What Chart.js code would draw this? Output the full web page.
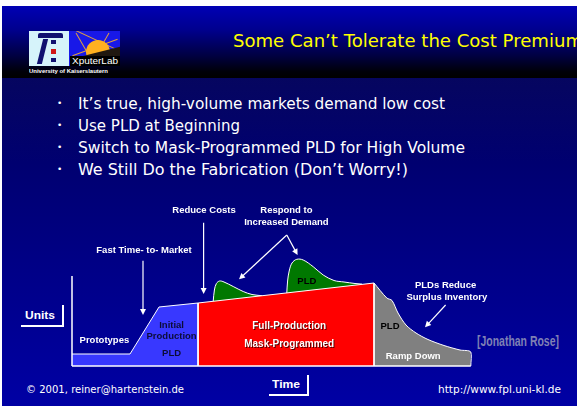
<!DOCTYPE html>
<html>
<head>
<meta charset="utf-8">
<script src="https://cdn.jsdelivr.net/npm/chart.js@4/dist/chart.umd.min.js"></script>
<style>
  html, body { margin: 0; padding: 0; background: #fff; }
  #slide { position: relative; width: 577px; height: 406px; overflow: hidden;
           background: linear-gradient(to bottom, #0b0b50 0%, #000070 40%, #0000a4 100%);
           font-family: 'Liberation Sans', Arial, sans-serif; }
  #head { position: absolute; left: 0; top: 0; width: 577px; height: 78px;
          background: linear-gradient(to bottom, #0000b4 8%, #00008e 38%, #000040 72%, #000008 92%, #000 100%); }
  #topstrip { position: absolute; left: 0; top: 0; width: 577px; height: 6px; background: #fff; }
  #leftstrip { position: absolute; left: 0; top: 0; width: 2px; height: 406px; background: #fff; }
  .t { position: absolute; white-space: nowrap; line-height: 1; transform-origin: left center; }
  .hand { font-family: 'DejaVu Sans', sans-serif; }
  .lbl { font-weight: bold; color: #fff; font-size: 11px; }
  .line { position: absolute; background: #fff; }
  canvas { position: absolute; left: 0; top: 0; }
  .box { position: absolute; }
</style>
</head>
<body>
<div id="slide">
  <div id="head"></div>
  <div id="topstrip"></div>
  <div id="leftstrip"></div>

  <!-- logo -->
  <div class="box" style="left:29px;top:31px;width:40px;height:35px;background:#d6f3fa;"></div>
  <div class="box" style="left:38px;top:33px;width:25px;height:5px;background:#101070;border-radius:2px 2px 0 0;"></div>
  <div class="box" style="left:40px;top:39px;width:5px;height:25px;background:#101070;transform:skewX(-14deg);"></div>
  <div class="box" style="left:51px;top:40px;width:5px;height:4px;background:#101070;"></div>
  <div class="box" style="left:51px;top:49px;width:5px;height:5px;background:#d01818;"></div>
  <div class="box" style="left:51px;top:58px;width:5px;height:4px;background:#101070;"></div>
  <div class="box" style="left:69px;top:31px;width:51px;height:35px;background:#1818e8;overflow:hidden;">
    <div class="box" style="left:2px;top:16px;width:48px;height:1px;background:#e0a040;transform:rotate(-20deg);"></div>
    <div class="box" style="left:2px;top:8px;width:48px;height:1px;background:#e0a040;transform:rotate(25deg);"></div>
    <div class="box" style="left:14px;top:0px;width:1px;height:30px;background:#e0a040;transform:rotate(-30deg);"></div>
    <div class="box" style="left:32px;top:0px;width:1px;height:30px;background:#e0a040;transform:rotate(30deg);"></div>
    <div class="box" style="left:17px;top:9px;width:24px;height:24px;border-radius:50%;background:#ffb020;"></div>
    <div class="box" style="left:14px;top:20px;width:40px;height:14px;background:#201810;transform:skewY(-14deg);"></div>
    <div class="box" style="left:1px;top:25px;width:50px;height:10px;background:#000;"></div>
    <div class="t" style="left:3px;top:26px;font-size:9px;color:#fff;font-family:'Liberation Sans',Arial,sans-serif;" data-w="46">XputerLab</div>
  </div>
  <div class="t" style="left:29px;top:68px;font-size:6px;color:#fff;font-weight:bold;" data-w="79">University of Kaiserslautern</div>

  <!-- title -->
  <div class="t hand" style="left:233px;top:32px;font-size:18px;color:#ffff00;" data-w="350">Some Can’t Tolerate the Cost Premium</div>

  <!-- bullets -->
  <div class="t hand" style="left:57px;top:99px;font-size:9px;color:#fff;">•</div>
  <div class="t hand" style="left:78px;top:96px;font-size:16px;color:#fff;" data-w="367">It’s true, high-volume markets demand low cost</div>
  <div class="t hand" style="left:57px;top:121px;font-size:9px;color:#fff;">•</div>
  <div class="t hand" style="left:78px;top:118px;font-size:16px;color:#fff;" data-w="162">Use PLD at Beginning</div>
  <div class="t hand" style="left:57px;top:143px;font-size:9px;color:#fff;">•</div>
  <div class="t hand" style="left:78px;top:140px;font-size:16px;color:#fff;" data-w="387">Switch to Mask-Programmed PLD for High Volume</div>
  <div class="t hand" style="left:57px;top:165px;font-size:9px;color:#fff;">•</div>
  <div class="t hand" style="left:78px;top:162px;font-size:16px;color:#fff;" data-w="330">We Still Do the Fabrication (Don’t Worry!)</div>

  <!-- axis titles -->
  <div class="t lbl" style="left:25px;top:310px;" data-w="30">Units</div>
  <div class="line" style="left:62px;top:305px;width:2px;height:22px;"></div>
  <div class="line" style="left:21px;top:325px;width:43px;height:2px;"></div>
  <div class="t lbl" style="left:272px;top:379px;" data-w="28">Time</div>
  <div class="line" style="left:307px;top:375px;width:2px;height:21px;"></div>
  <div class="line" style="left:269px;top:394px;width:40px;height:2px;"></div>

  <div class="t" style="left:477px;top:334px;font-size:14px;color:#7f80b4;font-weight:bold;" data-w="82">[Jonathan Rose]</div>

  <!-- footer -->
  <div class="t hand" style="left:26px;top:384px;font-size:11px;color:#fff;" data-w="158">© 2001, reiner@hartenstein.de</div>
  <div class="t hand" style="left:438px;top:384px;font-size:11px;color:#fff;" data-w="123">http://www.fpl.uni-kl.de</div>

  <canvas id="c" width="577" height="406"></canvas>
</div>

<script>
// Product life-cycle curve: units shipped over time, split by implementation.
// Prototypes and initial production on programmable logic
const protoTime  = [0, 14.5, 21.75, 31.5, 31.5];
const protoUnits = [12, 12, 59, 63, 0];
// Full-production run on mask-programmed parts
const maskTime  = [31.5, 31.5, 75.5, 75.5];
const maskUnits = [0, 63, 83, 0];
// Extra PLD volume on top of the mask run: two demand peaks
const peak1Time  = [35.3, 35.6, 36.1, 36.9, 38.0, 40.3, 42.8, 45.0, 47.5];
const peak1Units = [64.5, 76, 82.5, 85, 84, 79.5, 74.5, 71.5, 70.3];
const peak2Time  = [53.7, 53.9, 54.3, 55.0, 56.2, 57.8, 60.3, 62.8, 65.5, 68.0, 70.75, 72.5];
const peak2Units = [72.9, 85, 95, 103, 106.7, 106, 99.3, 91, 85.5, 84, 82.5, 81.9];
// Ramp-down tail back on PLDs
const rampTime  = [75.5, 78.7, 80.0, 81.5, 83.5, 86.0, 89.0, 93.0, 97.0, 99.7, 99.7];
const rampUnits = [83, 68, 65.5, 53, 41, 33, 26.5, 20.5, 16, 14, 0];

const toPoints = (xs, ys) => xs.map((x, i) => ({ x, y: ys[i] }));

// Call-out labels and arrows, placed in time/units coordinates
const callouts = [
  { text: 'Fast Time- to- Market', x: 18.0, y: 115.3, color: '#ffffff', size: 9.5 },
  { text: 'Reduce Costs', x: 33.0, y: 155.3, color: '#ffffff', size: 9.5 },
  { text: 'Respond to', x: 53.6, y: 156.0, color: '#ffffff', size: 9.5 },
  { text: 'Increased Demand', x: 53.6, y: 144.0, color: '#ffffff', size: 9.5 },
  { text: 'Prototypes', x: 8.1, y: 26.0, color: '#ffffff', size: 9.5 },
  { text: 'Initial', x: 24.9, y: 41.0, color: '#0c0c38', size: 9.5 },
  { text: 'Production', x: 24.9, y: 29.3, color: '#0c0c38', size: 9.5 },
  { text: 'PLD', x: 24.9, y: 12.7, color: '#0c0c38', size: 9.5 },
  { text: 'Full-Production', x: 54.3, y: 40.0, color: '#ffffff', size: 10, shadow: true },
  { text: 'Mask-Programmed', x: 54.3, y: 22.0, color: '#ffffff', size: 10, shadow: true },
  { text: 'PLD', x: 58.7, y: 84.3, color: '#000000', size: 9.5 },
  { text: 'PLD', x: 79.5, y: 39.3, color: '#000000', size: 9.5 },
  { text: 'Ramp Down', x: 85.3, y: 10.0, color: '#ffffff', size: 9.5 },
  { text: 'PLDs Reduce', x: 93.4, y: 80.3, color: '#ffffff', size: 9.5 },
  { text: 'Surplus Inventory', x: 93.7, y: 68.3, color: '#ffffff', size: 9.5 }
];
const arrows = [
  { from: [17.75, 105.3], to: [17.75, 51] },
  { from: [32.9, 143.3], to: [32.9, 72] },
  { from: [53.7, 131], to: [41.75, 86.7] },
  { from: [53.7, 131], to: [56.4, 111] },
  { from: [93.4, 61], to: [88.25, 38.7] }
];

const calloutPlugin = {
  id: 'callouts',
  afterDatasetsDraw(chart) {
    const { ctx, scales: { x, y } } = chart;
    ctx.save();
    // axes: vertical units axis and the time baseline
    ctx.strokeStyle = '#ffffff';
    ctx.lineWidth = 1.5;
    ctx.beginPath();
    ctx.moveTo(x.getPixelForValue(0), y.getPixelForValue(0));
    ctx.lineTo(x.getPixelForValue(0), y.getPixelForValue(90));
    ctx.moveTo(x.getPixelForValue(0), y.getPixelForValue(0));
    ctx.lineTo(x.getPixelForValue(99.7), y.getPixelForValue(0));
    ctx.stroke();

    // arrows
    ctx.lineWidth = 1.2;
    ctx.fillStyle = '#ffffff';
    arrows.forEach(a => {
      const x0 = x.getPixelForValue(a.from[0]), y0 = y.getPixelForValue(a.from[1]);
      const x1 = x.getPixelForValue(a.to[0]), y1 = y.getPixelForValue(a.to[1]);
      const ang = Math.atan2(y1 - y0, x1 - x0);
      ctx.beginPath();
      ctx.moveTo(x0, y0);
      ctx.lineTo(x1 - 3 * Math.cos(ang), y1 - 3 * Math.sin(ang));
      ctx.stroke();
      ctx.beginPath();
      ctx.moveTo(x1, y1);
      ctx.lineTo(x1 - 6 * Math.cos(ang) + 3 * Math.sin(ang), y1 - 6 * Math.sin(ang) - 3 * Math.cos(ang));
      ctx.lineTo(x1 - 6 * Math.cos(ang) - 3 * Math.sin(ang), y1 - 6 * Math.sin(ang) + 3 * Math.cos(ang));
      ctx.closePath();
      ctx.fill();
    });

    // labels
    ctx.textAlign = 'center';
    ctx.textBaseline = 'middle';
    callouts.forEach(c => {
      ctx.font = `bold ${c.size}px 'Liberation Sans', Arial, sans-serif`;
      const px = x.getPixelForValue(c.x), py = y.getPixelForValue(c.y);
      if (c.shadow) {
        ctx.fillStyle = '#500000';
        ctx.fillText(c.text, px + 1, py + 1);
      }
      ctx.fillStyle = c.color;
      ctx.fillText(c.text, px, py);
    });
    ctx.restore();
  }
};

const area = (label, pts, color, order, tension) => ({
  label,
  data: pts,
  backgroundColor: color,
  borderColor: '#ffffff',
  borderWidth: 1,
  fill: 'origin',
  tension,
  pointRadius: 0,
  order
});

new Chart(document.getElementById('c'), {
  type: 'line',
  data: {
    datasets: [
      area('Initial production (PLD)', toPoints(protoTime, protoUnits), '#3838ff', 1, 0),
      area('Full production (mask-programmed)', toPoints(maskTime, maskUnits), '#ff0000', 1, 0),
      area('Ramp down (PLD)', toPoints(rampTime, rampUnits), '#808080', 1, 0.3),
      area('Demand peak (PLD)', toPoints(peak1Time, peak1Units), '#007800', 3, 0.35),
      area('Demand peak (PLD)', toPoints(peak2Time, peak2Units), '#007800', 3, 0.35)
    ]
  },
  options: {
    responsive: false,
    animation: false,
    layout: { padding: { left: 72, right: 105, top: 256, bottom: 40 } },
    scales: {
      x: { type: 'linear', min: 0, max: 100, display: false },
      y: { type: 'linear', min: 0, max: 110, display: false }
    },
    plugins: { legend: { display: false }, tooltip: { enabled: false } }
  },
  plugins: [calloutPlugin]
});

// stretch the slide texts to their set widths
document.querySelectorAll('[data-w]').forEach(el => {
  const w = el.getBoundingClientRect().width;
  const target = parseFloat(el.dataset.w);
  if (w > 0) el.style.transform = `scaleX(${target / w})`;
});
</script>
</body>
</html>
